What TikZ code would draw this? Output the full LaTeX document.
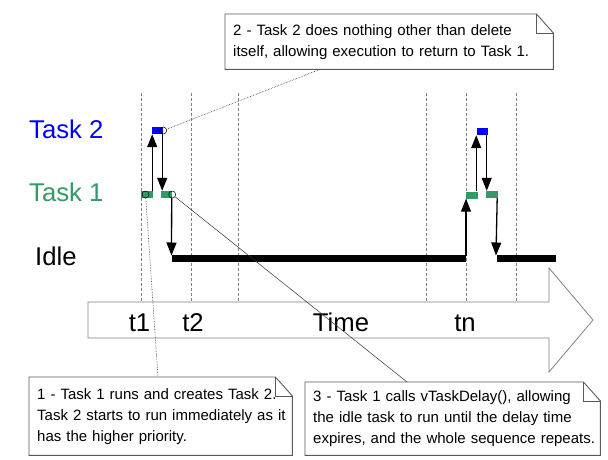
\documentclass[tikz,border=0pt]{standalone}
\usepackage{fontspec}
\setmainfont{Liberation Sans}
\usetikzlibrary{arrows.meta}
\definecolor{taskblue}{RGB}{0,0,255}
\definecolor{taskgreen}{RGB}{51,153,102}
\newcommand\dogear[1]{\draw[noteline] (#1.south west) -- (#1.north west) -- ([xshift=-17pt]#1.north east) -- ([yshift=-19pt]#1.north east) -- (#1.south east) -- cycle;
\draw[noteline] ([xshift=-17pt]#1.north east) |- ([yshift=-19pt]#1.north east);}

\begin{document}
\begin{tikzpicture}[x=1pt, y=-1pt, >={Triangle[width=10pt,length=13pt]},
  rowlabel/.style={anchor=base west, inner sep=0pt, font=\fontsize{25.7}{30}\selectfont},
  timelabel/.style={anchor=base, inner sep=0pt, font=\fontsize{25.7}{30}\selectfont},
  slot/.style={inner sep=0pt, minimum height=7pt},
  marker/.style={circle, draw, line width=0.5pt, inner sep=0pt, minimum size=7pt},
  tick/.style={gray, line width=0.5pt, dash pattern=on 3pt off 2pt},
  timearrow/.style={draw=gray, fill=white, line width=0.8pt},
  idlebar/.style={line width=6.5pt},
  jump/.style={->, line width=1.3pt},
  leader/.style={densely dotted, line width=0.6pt, black!80},
  note/.style={anchor=north west, inner sep=0pt, inner xsep=8pt, align=left, font=\fontsize{15}{21}\selectfont},
  noteline/.style={draw=black!65, line width=0.9pt}]
\useasboundingbox (0,0) rectangle (608,460);
\foreach \x in {141,191,238,426,466,516}
  \draw[tick] (\x,93) -- (\x,302);
\draw[timearrow] (88,302) -- (549,302) -- (549,268) -- (593,320) -- (549,372) -- (549,338) -- (88,338) -- cycle;
\draw (139.5,331) node[timelabel](lbt1){t1};
\draw (193,331) node[timelabel](lbt2){t2};
\draw (341,331) node[timelabel](lbtime){Time};
\draw (465,331) node[timelabel](lbtn){tn};
\draw (29,139) node[rowlabel, text=taskblue](lbtask2){Task 2};
\draw (29,201.7) node[rowlabel, text=taskgreen](lbtask1){Task 1};
\draw (35,265.7) node[rowlabel](lbidle){Idle};
\coordinate (i1) at (172,258.5);
\coordinate (i2) at (466,258.5);
\coordinate (i3) at (497,258.5);
\coordinate (i4) at (556,258.5);
\draw[idlebar] (i1) -- (i2) (i3) -- (i4);
\draw (147,194.5) node[slot, fill=taskgreen, minimum width=12pt](s1a){};
\draw (157.5,130.5) node[slot, fill=taskblue, minimum width=11pt](s2a){};
\draw (166.5,194.5) node[slot, fill=taskgreen, minimum width=11pt](s1b){};
\draw (472,195) node[slot, fill=taskgreen, minimum width=12pt](s1c){};
\draw (482,131.5) node[slot, fill=taskblue, minimum width=11pt](s2b){};
\draw (492,194.5) node[slot, fill=taskgreen, minimum width=12pt](s1d){};
\draw[jump] ([xshift=-1pt]s1a.north east) -- ([xshift=-1pt]s1a.north east |- s2a.south);
\draw[jump] ([xshift=-1pt]s2a.south east) -- ([xshift=-1pt]s2a.south east |- s1b.north);
\draw[jump] ([xshift=-0.5pt]s1b.south east) -- ([xshift=-0.5pt,yshift=3pt]i1);
\draw[jump] ([yshift=3pt]i2) -- (i2 |- s1c.south);
\draw[jump] ([xshift=-2pt]s1c.north east) -- ([xshift=-2pt]s1c.north east |- s2b.south);
\draw[jump] ([xshift=-1pt]s2b.south east) -- ([xshift=-1pt]s2b.south east |- s1d.north);
\draw[jump] ([xshift=-1pt]s1d.south east) -- ([xshift=-1pt,yshift=3pt]i3);
\draw ([xshift=4.7pt]s1a.west) node[marker](c1){};
\draw (s2a.east) node[marker](c2){};
\draw (s1b.east) node[marker](c3){};
\draw (225,14) node[note, text width=312pt, minimum width=328pt, minimum height=55pt](n2){\mbox{2 - Task 2 does nothing other than delete}\\\mbox{itself, allowing execution to return to Task 1.}};
\draw (29,377) node[note, text width=247pt, minimum width=263pt, minimum height=78pt](n1){\mbox{1 - Task 1 runs and creates Task 2.}\\\mbox{Task 2 starts to run immediately as it}\\\mbox{has the higher priority.}};
\draw (305,382) node[note, text width=279pt, minimum width=295pt, minimum height=73pt](n3){\mbox{3 - Task 1 calls vTaskDelay(), allowing}\\\mbox{the idle task to run until the delay time}\\\mbox{expires, and the whole sequence repeats.}};
\dogear{n2}
\dogear{n1}
\dogear{n3}
\draw[leader] (c2) -- ([xshift=95pt]n2.south west);
\draw[leader] (c1) -- ([xshift=129pt]n1.north west);
\draw[leader, solid, line width=0.5pt] (c3) -- ([xshift=102pt]n3.north west);
\end{tikzpicture}
\end{document}
